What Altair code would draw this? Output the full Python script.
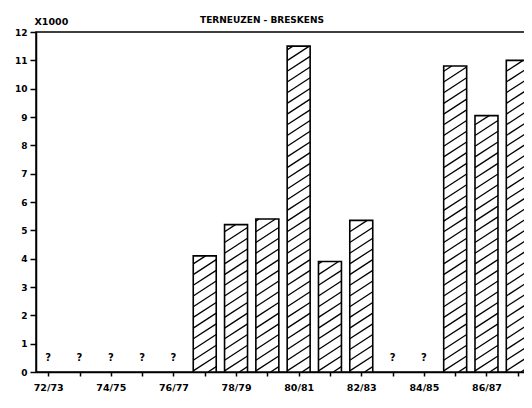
import altair as alt
import pandas as pd

# ---- data ----
seasons = ["72/73", "73/74", "74/75", "75/76", "76/77", "77/78", "78/79", "79/80",
           "80/81", "81/82", "82/83", "83/84", "84/85", "85/86", "86/87", "87/88"]
values = [None, None, None, None, None, 4.1, 5.2, 5.4,
          11.5, 3.9, 5.35, None, None, 10.8, 9.05, 11.0]
y_ticks = list(range(0, 13))
title_text = "TERNEUZEN - BRESKENS"
unit_text = "X1000"

# ---- styling constants ----
W, H = 494, 340
X_DOMAIN = [-0.39, 15.39]
Y_DOMAIN = [0, 12]
HALF = 0.367            # half bar width in index units
FONT = "DejaVu Sans"

rows = []
for i, (s, v) in enumerate(zip(seasons, values)):
    rows.append({"i": i, "season": s, "value": v})
df = pd.DataFrame(rows)
bars = df[df["value"].notna()].copy()
bars["xl"] = bars["i"] - HALF
bars["xr"] = bars["i"] + HALF
bars["zero"] = 0.0
missing = df[df["value"].isna()].copy()
missing["qy"] = 0.5
missing["q"] = "?"

# hatch pattern (diagonal "///") derived from each bar's value through the scales
px_x = W / (X_DOMAIN[1] - X_DOMAIN[0])
px_y = H / (Y_DOMAIN[1] - Y_DOMAIN[0])
m = 0.65 * px_x / px_y        # slope in data units
s = 10.7 / px_y               # vertical spacing in data units
hatch = []
for _, r in bars.iterrows():
    L, R, v = r["xl"], r["xr"], r["value"]
    b = -m * (R - L) + s * 0.5
    while b < v:
        xs = max(L, L + (0 - b) / m)
        xe = min(R, L + (v - b) / m)
        if xe > xs:
            hatch.append({"x": xs, "x2": xe,
                          "y": b + m * (xs - L), "y2": b + m * (xe - L)})
        b += s
hatch_df = pd.DataFrame(hatch)

label_arr = "[" + ",".join(
    "'" + (sn if k % 2 == 0 else "") + "'" for k, sn in enumerate(seasons)) + "]"

xscale = alt.Scale(domain=X_DOMAIN, nice=False, zero=False)
yscale = alt.Scale(domain=Y_DOMAIN, nice=False)

x_axis = alt.Axis(values=list(range(len(seasons))), tickCount=40,
                  labelExpr=label_arr + "[datum.value]",
                  tickSize=4, labelPadding=6, title=None, labelFontSize=9.5,
                  labelAngle=0, labelOverlap=False)
y_axis = alt.Axis(values=y_ticks, tickCount=40, format="d", tickSize=6, labelPadding=3,
                  labelFontSize=9, labelOverlap=False,
                  title=unit_text, titleAngle=0, titleX=-2, titleY=-11,
                  titleAlign="left", titleBaseline="middle", titleFontSize=9.5,
                  titleFont=FONT, titleFontWeight="bold", titleColor="black")

base_bar = alt.Chart(bars).encode(
    x=alt.X("xl:Q", scale=xscale, axis=x_axis),
    x2="xr:Q",
    y=alt.Y("value:Q", scale=yscale, axis=y_axis),
    y2="zero:Q",
)
fill_layer = base_bar.mark_rect(fill="white", strokeWidth=0)
outline_layer = base_bar.mark_rect(fill="white", fillOpacity=0, stroke="black", strokeWidth=1.6)

hatch_layer = alt.Chart(hatch_df).mark_rule(color="black", strokeWidth=1.3).encode(
    x=alt.X("x:Q", scale=xscale, axis=x_axis),
    x2="x2:Q",
    y=alt.Y("y:Q", scale=yscale, axis=y_axis),
    y2="y2:Q",
)

q_layer = alt.Chart(missing).mark_text(
    font=FONT, fontWeight="bold", fontSize=10, color="black", baseline="middle"
).encode(
    x=alt.X("i:Q", scale=xscale, axis=x_axis),
    y=alt.Y("qy:Q", scale=yscale, axis=y_axis),
    text="q:N",
)

chart = alt.layer(fill_layer, hatch_layer, outline_layer, q_layer).properties(
    width=W, height=H,
    autosize="none",
    padding={"left": 28, "top": 24, "right": -6, "bottom": 30},
    title=alt.TitleParams(title_text, fontSize=9, font=FONT, fontWeight="bold",
                          color="black", anchor="middle", dx=-21, offset=-9),
    background="white",
).configure_view(
    stroke="black", strokeWidth=1.5
).configure_axis(
    grid=False, domainColor="black", domainWidth=1.5, tickColor="black",
    tickWidth=1.5, labelColor="black", labelFont=FONT, labelFontWeight="bold",
)

chart.save("out.html", embed_options={"renderer": "svg", "actions": False})
